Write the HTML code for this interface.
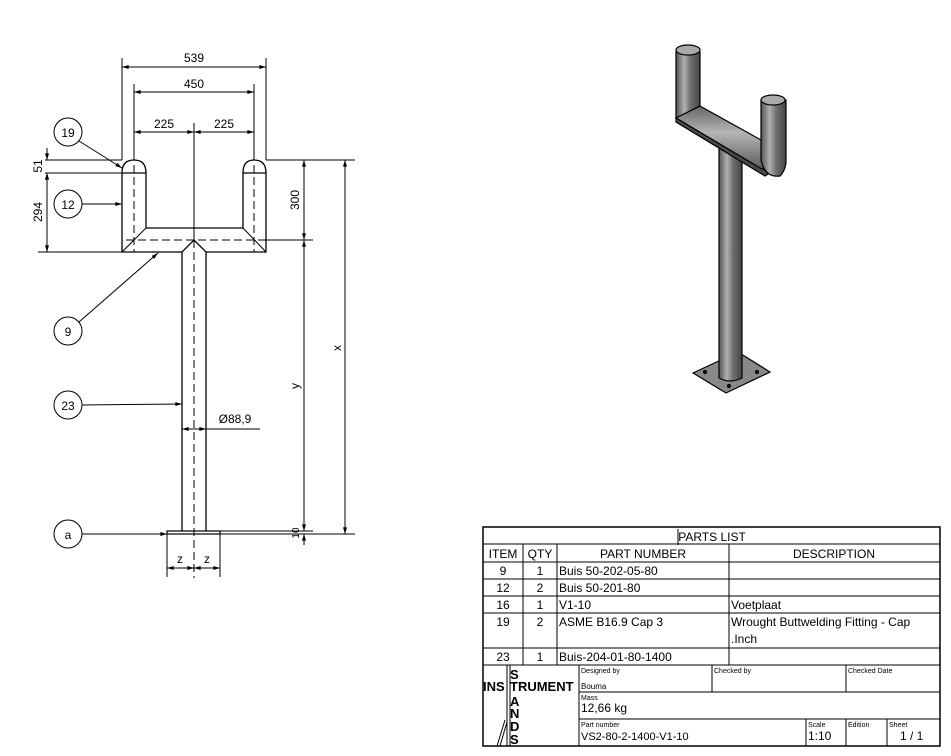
<!DOCTYPE html>
<html><head><meta charset="utf-8"><style>
html,body{margin:0;padding:0;background:#fff;}
svg{display:block;font-family:"Liberation Sans",sans-serif;}
</style></head><body>
<svg width="951" height="756" viewBox="0 0 951 756" xmlns="http://www.w3.org/2000/svg">
<defs>
<marker id="a" viewBox="0 0 10 6" refX="10" refY="3" markerWidth="7" markerHeight="4" orient="auto-start-reverse"><path d="M0,0L10,3L0,6z" fill="#000"/></marker>
<linearGradient id="g" x1="0" x2="1"><stop offset="0" stop-color="#555"/><stop offset=".35" stop-color="#b0b0b0"/><stop offset=".6" stop-color="#707070"/><stop offset="1" stop-color="#444"/></linearGradient>
<linearGradient id="gb" x1="0" y1="0" x2="0" y2="1"><stop offset="0" stop-color="#666"/><stop offset=".4" stop-color="#b5b5b5"/><stop offset="1" stop-color="#555"/></linearGradient>
</defs>
<g stroke="#000" fill="none" stroke-width="1">
<line x1="122" y1="58" x2="122" y2="160"/><line x1="266" y1="58" x2="266" y2="160"/>
<line x1="122" y1="67" x2="266" y2="67" marker-start="url(#a)" marker-end="url(#a)"/>
<line x1="134" y1="84" x2="134" y2="160"/><line x1="254" y1="84" x2="254" y2="160"/>
<line x1="134" y1="92" x2="254" y2="92" marker-start="url(#a)" marker-end="url(#a)"/>
<line x1="134" y1="132" x2="194" y2="132" marker-start="url(#a)" marker-end="url(#a)"/>
<line x1="194" y1="132" x2="254" y2="132" marker-start="url(#a)" marker-end="url(#a)"/>
<line x1="194" y1="123" x2="194" y2="240"/>
<path d="M122,252 L122,173 L146,173 L146,228 L243,228 L243,173 L266,173 L266,252 L206,252 L194,240 L182,252 Z" stroke-width="1.3"/>
<path d="M122,173 Q122,160 134,160 Q146,160 146,173" stroke-width="1.3"/>
<path d="M243,173 Q243,160 254,160 Q266,160 266,173" stroke-width="1.3"/>
<line x1="122" y1="252" x2="146" y2="228"/><line x1="266" y1="252" x2="243" y2="228"/>
<g stroke-dasharray="8,4">
<line x1="134" y1="165" x2="134" y2="252"/><line x1="254" y1="165" x2="254" y2="252"/>
<line x1="126" y1="240" x2="282" y2="240"/>
<line x1="194" y1="240" x2="194" y2="578"/>
</g>
<line x1="266" y1="240" x2="313" y2="240"/>
<line x1="182" y1="252" x2="182" y2="531" stroke-width="1.3"/><line x1="206" y1="252" x2="206" y2="531" stroke-width="1.3"/>
<rect x="167" y="531" width="53" height="3" stroke-width="1.2"/>
<line x1="45" y1="160" x2="122" y2="160"/><line x1="45" y1="173" x2="122" y2="173"/><line x1="38" y1="252" x2="122" y2="252"/>
<line x1="47" y1="148" x2="47" y2="160" marker-end="url(#a)"/><line x1="47" y1="185" x2="47" y2="173" marker-end="url(#a)"/>
<line x1="47" y1="173" x2="47" y2="252" marker-start="url(#a)" marker-end="url(#a)"/>
<line x1="266" y1="160" x2="355" y2="160"/>
<line x1="304" y1="160" x2="304" y2="240" marker-start="url(#a)" marker-end="url(#a)"/>
<line x1="304" y1="240" x2="304" y2="531" marker-start="url(#a)" marker-end="url(#a)"/>
<line x1="220" y1="531" x2="313" y2="531"/>
<line x1="220" y1="534" x2="355" y2="534"/>
<line x1="304" y1="545" x2="304" y2="534" marker-end="url(#a)"/>
<line x1="345" y1="160" x2="345" y2="534" marker-start="url(#a)" marker-end="url(#a)"/>
<line x1="182" y1="429" x2="206" y2="429" marker-start="url(#a)" marker-end="url(#a)"/>
<line x1="206" y1="429" x2="260" y2="429"/>
<line x1="167" y1="534" x2="167" y2="577"/><line x1="220" y1="534" x2="220" y2="577"/>
<line x1="167" y1="568" x2="194" y2="568" marker-start="url(#a)" marker-end="url(#a)"/>
<line x1="194" y1="568" x2="220" y2="568" marker-start="url(#a)" marker-end="url(#a)"/>
<circle cx="68" cy="132" r="14"/><line x1="79" y1="141" x2="122" y2="168" marker-end="url(#a)"/>
<circle cx="68" cy="204" r="14"/><line x1="82" y1="204" x2="122" y2="204" marker-end="url(#a)"/>
<circle cx="68" cy="331" r="14"/><line x1="79" y1="322" x2="158" y2="253" marker-end="url(#a)"/>
<circle cx="68" cy="405" r="14"/><line x1="82" y1="405" x2="182" y2="404" marker-end="url(#a)"/>
<circle cx="68" cy="534" r="14"/><line x1="82" y1="534" x2="167" y2="534" marker-end="url(#a)"/>
</g>
<g font-size="12" text-anchor="middle" fill="#000">
<text x="194" y="62">539</text><text x="194" y="88">450</text>
<text x="164" y="128">225</text><text x="224" y="128">225</text>
<text x="68" y="137">19</text><text x="68" y="209">12</text><text x="68" y="336">9</text><text x="68" y="410">23</text><text x="68" y="539">a</text>
<text x="235" y="423">Ø88,9</text>
<text x="180" y="563">z</text><text x="207" y="563">z</text>
<text transform="translate(42,166) rotate(-90)">51</text>
<text transform="translate(42,212) rotate(-90)">294</text>
<text transform="translate(299,200) rotate(-90)">300</text>
<text transform="translate(299,386) rotate(-90)">y</text>
<text transform="translate(341,348) rotate(-90)">x</text>
<text transform="translate(299,533) rotate(-90)" font-size="10">10</text>
</g>
<g stroke="#000" stroke-width="1.2">
<polygon points="693,373 738,352 770,372 726,393" fill="#888"/>
<circle cx="705" cy="372" r="1.5" fill="#222"/><circle cx="738" cy="358" r="1.5" fill="#222"/><circle cx="757" cy="372" r="1.5" fill="#222"/><circle cx="729" cy="386" r="1.5" fill="#222"/>
<path d="M719,140 L719,378 Q730,384 742,378 L742,152 Z" fill="url(#g)"/>
<path d="M676,52 L676,118 L700,106 L700,52 Z" fill="url(#g)"/>
<path d="M676,118 L700,106 L761,140 L771,172 L760,168 Z" fill="url(#gb)"/>
<path d="M676,118 L760,168 L771,172 L765,176 L676,122 Z" fill="#4a4a4a"/>
<path d="M761,100 L761,160 Q765,178 780,176 Q786,170 786,160 L786,100 Z" fill="url(#g)"/>
<ellipse cx="688" cy="50" rx="12" ry="5" fill="#aaa"/>
<ellipse cx="773" cy="100" rx="12" ry="5" fill="#aaa"/>
</g>
<g stroke="#000" fill="none" stroke-width="1">
<rect x="483" y="527" width="457" height="219" stroke-width="1.5"/>
<line x1="483" y1="544" x2="940" y2="544"/><line x1="483" y1="562" x2="940" y2="562"/>
<line x1="483" y1="579" x2="940" y2="579"/><line x1="483" y1="596" x2="940" y2="596"/>
<line x1="483" y1="613" x2="940" y2="613"/><line x1="483" y1="648" x2="940" y2="648"/>
<line x1="483" y1="665" x2="940" y2="665"/>
<line x1="523" y1="544" x2="523" y2="665"/><line x1="557" y1="544" x2="557" y2="665"/><line x1="729" y1="544" x2="729" y2="665"/>
<line x1="579" y1="665" x2="579" y2="746"/><line x1="712" y1="665" x2="712" y2="692"/><line x1="846" y1="665" x2="846" y2="692"/>
<line x1="579" y1="692" x2="940" y2="692"/><line x1="579" y1="719" x2="940" y2="719"/>
<line x1="806" y1="719" x2="806" y2="746"/><line x1="846" y1="719" x2="846" y2="746"/><line x1="887" y1="719" x2="887" y2="746"/>
<line x1="507" y1="665" x2="507" y2="746"/><line x1="510" y1="665" x2="510" y2="746"/>
<line x1="497" y1="746" x2="505" y2="720"/><line x1="500" y1="746" x2="507" y2="722"/>
<line x1="678" y1="529" x2="678" y2="545"/>
</g>
<g font-size="12" fill="#000">
<text x="712" y="541" text-anchor="middle">PARTS LIST</text>
<g text-anchor="middle">
<text x="503" y="558">ITEM</text><text x="540" y="558">QTY</text><text x="643" y="558">PART NUMBER</text><text x="834" y="558">DESCRIPTION</text>
<text x="503" y="575">9</text><text x="540" y="575">1</text>
<text x="503" y="592">12</text><text x="540" y="592">2</text>
<text x="503" y="609">16</text><text x="540" y="609">1</text>
<text x="503" y="626">19</text><text x="540" y="626">2</text>
<text x="503" y="661">23</text><text x="540" y="661">1</text>
</g>
<text x="559" y="575">Buis 50-202-05-80</text>
<text x="559" y="592">Buis 50-201-80</text>
<text x="559" y="609">V1-10</text><text x="731" y="609">Voetplaat</text>
<text x="559" y="626">ASME B16.9 Cap 3</text><text x="731" y="626">Wrought Buttwelding Fitting - Cap</text>
<text x="731" y="643">.Inch</text>
<text x="559" y="661">Buis-204-01-80-1400</text>
<text x="581" y="673" font-size="7">Designed by</text>
<text x="714" y="673" font-size="7">Checked by</text>
<text x="848" y="673" font-size="7">Checked Date</text>
<text x="581" y="689" font-size="8">Bouma</text>
<text x="581" y="700" font-size="7">Mass</text>
<text x="581" y="712" font-size="12">12,66 kg</text>
<text x="581" y="727" font-size="7">Part number</text>
<text x="581" y="740" font-size="11">VS2-80-2-1400-V1-10</text>
<text x="808" y="727" font-size="7">Scale</text><text x="808" y="740" font-size="12">1:10</text>
<text x="848" y="727" font-size="7">Edition</text>
<text x="889" y="727" font-size="7">Sheet</text><text x="900" y="740" font-size="12">1 / 1</text>
<g font-weight="bold" font-size="13">
<text x="483" y="691">INS</text><text x="510" y="691">TRUMENT</text>
<text x="510" y="679">S</text><text x="510" y="706">A</text><text x="510" y="718">N</text><text x="510" y="731">D</text><text x="510" y="744">S</text>
</g>
</g>
</svg>
</body></html>
